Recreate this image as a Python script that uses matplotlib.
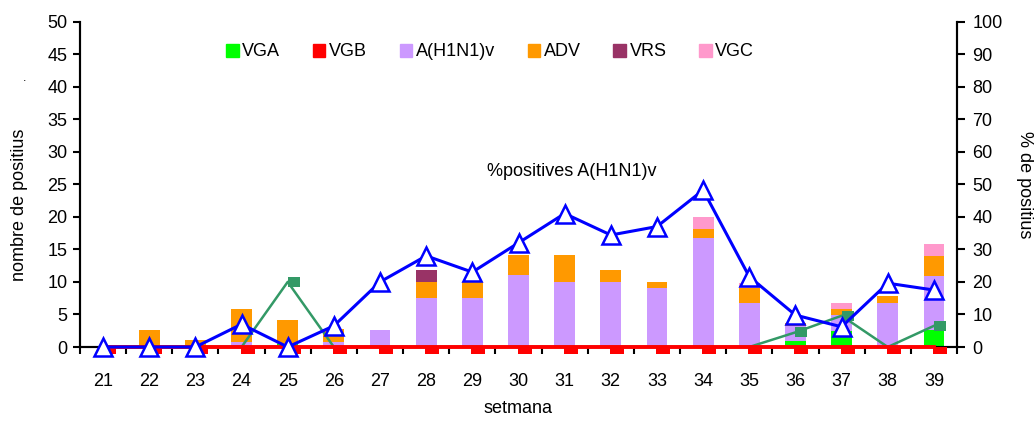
import numpy as np
import matplotlib.pyplot as plt
from matplotlib.patches import Patch

plt.rcParams['font.family'] = ['Liberation Sans', 'DejaVu Sans']
plt.rcParams['font.size'] = 13

weeks = ['21', '22', '23', '24', '25', '26', '27', '28', '29', '30',
         '31', '32', '33', '34', '35', '36', '37', '38', '39']

# counts per week (left axis)
vga = [0, 0, 0, 0, 0.4, 0, 0, 0, 0, 0, 0, 0, 0, 0, 0, 0.9, 2.5, 0, 2.6]
vgb = [0] * 19
h1n1 = [0, 0, 0, 0.8, 0, 0.8, 2.6, 7.6, 7.6, 11.0, 10.0, 10.0, 9.1, 16.8, 6.8, 2.4, 2.4, 6.8, 8.3]
adv = [0, 2.6, 1.0, 5.0, 3.7, 1.9, 0, 2.4, 2.4, 3.1, 4.1, 1.8, 0.9, 1.3, 2.3, 0.4, 0.9, 1.0, 3.1]
vrs = [0, 0, 0, 0, 0, 0, 0, 1.8, 0, 0, 0, 0, 0, 0, 0, 0, 0, 0, 0]
vgc = [0, 0, 0, 0, 0, 0, 0, 0, 0, 0, 0, 0, 0, 1.9, 0.8, 0, 1.0, 0, 1.8]

# percentages (right axis)
pct_h1n1 = [0, 0, 0, 7, 0, 6.5, 20, 28, 23, 32, 41, 34.4, 37, 48.2, 21.6, 9.8, 6.2, 19.6, 17.5]
pct_vga = [0, 0, 0, 0, 20, 0, 0, 0, 0, 0, 0, 0, 0, 0, 0, 4.5, 9.6, 0, 6.5]
pct_vgb = [0] * 19

series = [('VGA', vga, '#00ff00'), ('VGB', vgb, '#ff0000'), ('A(H1N1)v', h1n1, '#cc99ff'),
          ('ADV', adv, '#ff9900'), ('VRS', vrs, '#993366'), ('VGC', vgc, '#ff99cc')]

x = np.arange(len(weeks))

fig = plt.figure(figsize=(10.35, 4.21), dpi=100)
ax = fig.add_axes([80 / 1035, 1 - 347 / 421, 877 / 1035, 325.5 / 421])
ax2 = ax.twinx()

bottom = np.zeros(len(weeks))
for name, vals, col in series:
    ax.bar(x, vals, width=0.45, bottom=bottom, color=col, zorder=2)
    bottom += np.array(vals)

ax.set_xlim(-0.5, len(weeks) - 0.5)
ax.set_ylim(0, 50)
ax2.set_ylim(0, 100)
ax.set_yticks(range(0, 51, 5))
ax2.set_yticks(range(0, 101, 10))
ax.set_xticks(x)
ax.set_xticklabels(weeks)
ax.set_xticks(np.arange(-0.5, len(weeks), 1), minor=True)
ax.tick_params(axis='x', which='major', length=0, pad=19)
ax.tick_params(axis='x', which='minor', length=5, width=1.5, direction='out')
ax.tick_params(axis='y', length=5, width=1.5, pad=4)
ax2.tick_params(axis='y', length=6, width=1.5, pad=5)

for a in (ax, ax2):
    a.spines['top'].set_visible(False)
    for s in ('left', 'right', 'bottom'):
        a.spines[s].set_linewidth(1.5)

# right-offset markers like the original
green_mk = [(0, -0.4), (1, -0.4), (1, 0.4), (0, 0.4)]
red_mk = [(-0.1, 0), (1, 0), (1, -0.55), (-0.1, -0.55)]
green_on = [i for i, v in enumerate(pct_vga) if v > 0]

ax2.plot(x, pct_vga, color='#339966', lw=1.8, marker=green_mk, ms=17, mew=0,
         markevery=green_on, zorder=3)
ax2.plot(x, pct_vgb, color='#ff0000', lw=2.8, marker=red_mk, ms=18.7, mew=0,
         clip_on=False, zorder=4)
ax2.plot(x, pct_h1n1, color='#0000ff', lw=2.2, marker='^', ms=13.5, mfc='white',
         mec='#0000ff', mew=1.8, clip_on=False, zorder=5)

ax2.text(572, 421 - 172, '%positives A(H1N1)v', transform=None, ha='center', va='center')

ax.set_xlabel('setmana', labelpad=7)
fig.text(20 / 1035, 1 - 205 / 421, 'nombre de positius', rotation=90, ha='center', va='center')
fig.text(25 / 1035, 1 - 78 / 421, '.', ha='center', va='center', fontsize=9)
ax2.set_ylabel('% de positius', rotation=270, labelpad=22)

handles = [Patch(color=col, label=name) for name, vals, col in series]
fig.legend(handles=handles, loc='center left', bbox_to_anchor=(217 / 1035, 1 - 52 / 421),
           ncol=6, frameon=False, borderpad=0, handlelength=0.7, handleheight=0.7,
           handletextpad=0.2, columnspacing=1.8)

plt.savefig('out.png', dpi=100)
